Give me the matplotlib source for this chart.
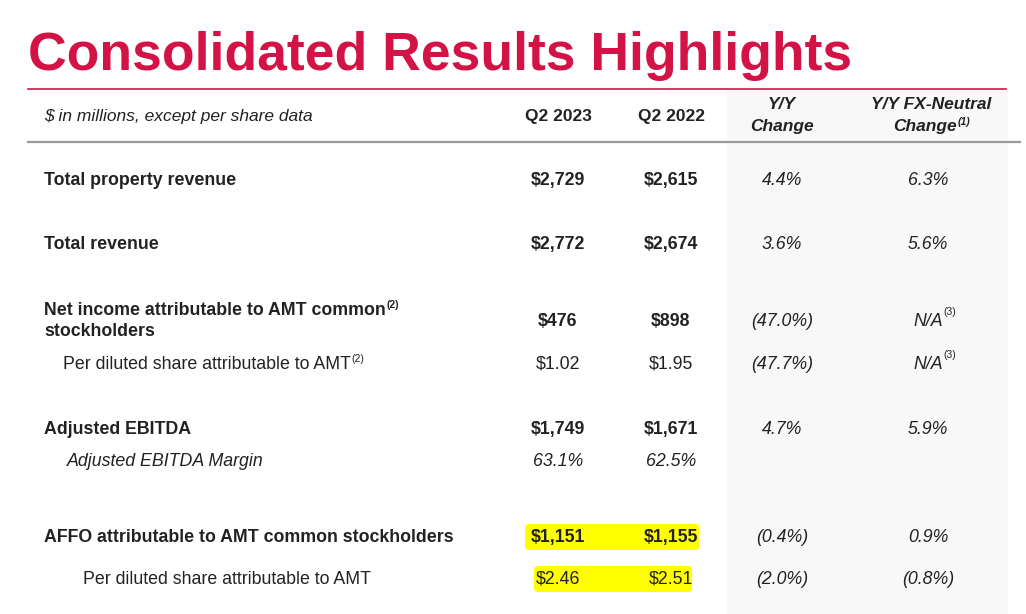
import matplotlib.pyplot as plt
from matplotlib.patches import Rectangle, FancyBboxPatch

# table content
title = "Consolidated Results Highlights"
unit_note = "$ in millions, except per share data"
col_headers = [["Q2 2023"], ["Q2 2022"], ["Y/Y", "Change"], ["Y/Y FX-Neutral", "Change"]]
header_notes = ["", "", "", "(1)"]

row_labels = [
    ["Total property revenue"],
    ["Total revenue"],
    ["Net income attributable to AMT common", "stockholders"],
    ["Per diluted share attributable to AMT"],
    ["Adjusted EBITDA"],
    ["Adjusted EBITDA Margin"],
    ["AFFO attributable to AMT common stockholders"],
    ["Per diluted share attributable to AMT"],
]
label_notes = ["", "", "(2)", "(2)", "", "", "", ""]
q2_2023 = ["$2,729", "$2,772", "$476", "$1.02", "$1,749", "63.1%", "$1,151", "$2.46"]
q2_2022 = ["$2,615", "$2,674", "$898", "$1.95", "$1,671", "62.5%", "$1,155", "$2.51"]
yy_change = ["4.4%", "3.6%", "(47.0%)", "(47.7%)", "4.7%", "", "(0.4%)", "(2.0%)"]
fx_neutral = ["6.3%", "5.6%", "N/A", "N/A", "5.9%", "", "0.9%", "(0.8%)"]
fx_notes = ["", "", "(3)", "(3)", "", "", "", ""]
highlighted = [6, 7]

# styling per row: (label weight, label style, label indent, value weight, value style)
row_styles = [
    ("bold", "normal", 44, "bold", "normal"),
    ("bold", "normal", 44, "bold", "normal"),
    ("bold", "normal", 44, "bold", "normal"),
    ("normal", "normal", 63, "normal", "normal"),
    ("bold", "normal", 44, "bold", "normal"),
    ("normal", "italic", 67, "normal", "italic"),
    ("bold", "normal", 44, "bold", "normal"),
    ("normal", "normal", 83, "normal", "normal"),
]
row_y = [180, 244, 321, 364, 429, 461, 537, 579]
col_x = [558, 671, 782, 928]
header_x = [558, 671, 782, 931]

RED = "#D31245"
TXT = "#222222"
FS = 12.8

plt.rcParams["font.family"] = "Liberation Sans"

fig = plt.figure(figsize=(10.26, 6.14), dpi=100)
ax = fig.add_axes([0, 0, 1, 1])
ax.set_xlim(0, 1026)
ax.set_ylim(614, 0)
ax.axis("off")


def put(x, y, s, ha="left", size=FS, weight="normal", style="normal"):
    # y is the visual centre of the capitals
    return ax.text(x, y + 0.37 * size * 100 / 72 * 0.72 / 0.5 * 0.5, s, fontsize=size,
                   fontweight=weight, style=style, color=TXT, ha=ha, va="baseline", zorder=3)


def sup(anchor, s, weight="normal", style="normal", dy=0):
    ax.annotate(s, xy=(1, 1), xycoords=anchor, xytext=(0.5, dy), textcoords="offset points",
                fontsize=7.5, fontweight=weight, style=style, color=TXT, va="top", ha="left", zorder=3)


# shaded change columns
ax.add_patch(Rectangle((727, 90), 281, 530, facecolor="#F8F8F8", edgecolor="none", zorder=0))

# title and rules
ax.text(28, 70, title, color=RED, fontsize=38.5, fontweight="bold", va="baseline", ha="left")
ax.plot([28, 1006], [89, 89], color=RED, lw=1.2)
ax.plot([28, 1020], [142, 142], color="#9a9a9a", lw=1.6)

# header
put(44, 116, unit_note, size=12.5, style="italic")
for j, lines in enumerate(col_headers):
    if len(lines) == 1:
        put(header_x[j], 116, lines[0], ha="center", size=12.5, weight="bold")
    else:
        put(header_x[j], 104, lines[0], ha="center", size=12.5, weight="bold", style="italic")
        x2 = header_x[j] - (6 if header_notes[j] else 0)
        t2 = put(x2, 126, lines[1], ha="center", size=12.5, weight="bold", style="italic")
        if header_notes[j]:
            sup(t2, header_notes[j], weight="bold", style="italic", dy=1)

# yellow highlights
for i in highlighted:
    y = row_y[i]
    if i == 6:
        x0, x1 = 524, 700
    else:
        x0, x1 = 533, 693
    ax.add_patch(FancyBboxPatch((x0 + 3, y - 11), x1 - x0 - 6, 22,
                                boxstyle="round,pad=2,rounding_size=4",
                                facecolor="#FFFF00", edgecolor="none", zorder=1))

# rows
for i, lines in enumerate(row_labels):
    lw, ls, indent, vw, vs = row_styles[i]
    y = row_y[i]
    if len(lines) == 1:
        t = put(indent, y, lines[0], weight=lw, style=ls)
    else:
        t = put(indent, y - 11, lines[0], weight=lw, style=ls)
        put(indent, y + 10, lines[1], weight=lw, style=ls)
    if label_notes[i]:
        sup(t, label_notes[i], weight=lw, dy=1)

    for x, v, w, s in [(col_x[0], q2_2023[i], vw, vs), (col_x[1], q2_2022[i], vw, vs),
                       (col_x[2], yy_change[i], "normal", "italic"),
                       (col_x[3], fx_neutral[i], "normal", "italic")]:
        if v:
            vt = put(x, y, v, ha="center", weight=w, style=s)
            if v == "N/A" and fx_notes[i]:
                sup(vt, fx_notes[i], dy=4)

fig.savefig("out.png", dpi=100)
